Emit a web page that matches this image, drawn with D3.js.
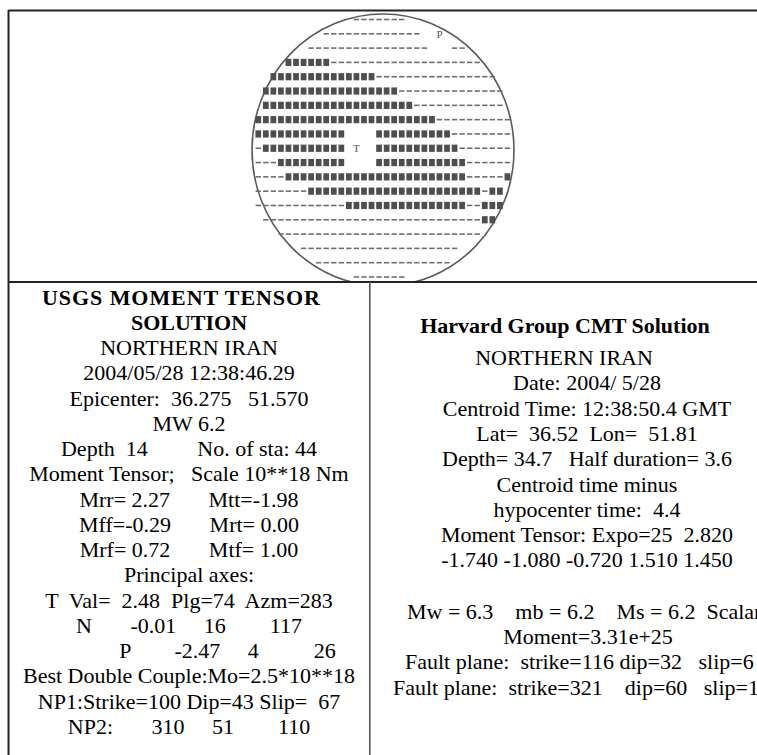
<!DOCTYPE html>
<html>
<head>
<meta charset="utf-8">
<script src="https://cdn.jsdelivr.net/npm/d3@7"></script>
<style>
    html, body { margin: 0; padding: 0; background: #fff; overflow: hidden; }
    svg text { font-family: "Liberation Serif", "Times New Roman", serif; fill: #000; }
</style>
</head>
<body>
<div id="chart"></div>
<script>
// ASCII focal mechanism, one string per printed line (# = compression, - = dilatation)
let ballRows = [
    "             -------",
    "         -------------  P",
    "       ----------------   --",
    "    ######--------------------",
    "  ##############----------------",
    " ##################--------------",
    " ####################------------",
    "########################----------",
    "############    ##########--------",
    "-########### T  ###########-------",
    "---#########    ############------",
    "----########################-----#",
    "-------#######################-##",
    "------------################--###",
    " -----------------------------##",
    "   ---------------------------",
    "      ---------------------",
    "        ------------------",
    "             -------"
];

// USGS panel text
let usgsTitle = ["USGS MOMENT TENSOR", "SOLUTION"];
let usgsLines = [
    "NORTHERN IRAN",
    "2004/05/28 12:38:46.29",
    "Epicenter:  36.275   51.570",
    "MW 6.2",
    "Depth  14         No. of sta: 44",
    "Moment Tensor;   Scale 10**18 Nm",
    "Mrr= 2.27       Mtt=-1.98",
    "Mff=-0.29       Mrt= 0.00",
    "Mrf= 0.72       Mtf= 1.00",
    "Principal axes:",
    "T  Val=  2.48  Plg=74  Azm=283",
    "N       -0.01     16        117",
    "              P        -2.47     4          26",
    "Best Double Couple:Mo=2.5*10**18",
    "NP1:Strike=100 Dip=43 Slip=  67",
    "NP2:       310     51        110"
];

// Harvard panel text
let harvardTitle = "Harvard Group CMT Solution";
let harvardLines = [
    "NORTHERN IRAN",
    "Date: 2004/ 5/28",
    "Centroid Time: 12:38:50.4 GMT",
    "Lat=  36.52  Lon=  51.81",
    "Depth= 34.7   Half duration= 3.6",
    "Centroid time minus",
    "hypocenter time:  4.4",
    "Moment Tensor: Expo=25  2.820",
    "-1.740 -1.080 -0.720 1.510 1.450"
];
let harvardMoment = [
    "Mw = 6.3    mb = 6.2    Ms = 6.2  Scalar",
    "Moment=3.31e+25",
    "Fault plane:  strike=116 dip=32   slip=6",
    "Fault plane:  strike=321    dip=60   slip=1"
];


// Beach ball drawn from the ASCII rows
class BeachBall {
    constructor(svg, rows) {
        this.svg = svg;
        this.rows = rows;
        this.initVis();
    }

    initVis() {
        let vis = this;

        vis.cx = 383;
        vis.cy = 150;
        vis.rx = 131;
        vis.ry = 136;
        vis.nCols = 34;

        // character grid
        vis.x = d3.scaleBand()
            .domain(d3.range(vis.nCols))
            .range([254.5, 254.5 + vis.nCols * 7.55]);

        vis.y = d3.scalePoint()
            .domain(d3.range(vis.rows.length))
            .range([19.5, 277]);

        vis.svg.append("clipPath")
            .attr("id", "ball-clip")
            .append("rect")
            .attr("x", 0).attr("y", 0)
            .attr("width", 757).attr("height", 282);

        vis.g = vis.svg.append("g");

        vis.g.append("ellipse")
            .attr("clip-path", "url(#ball-clip)")
            .attr("cx", vis.cx)
            .attr("cy", vis.cy)
            .attr("rx", vis.rx)
            .attr("ry", vis.ry)
            .attr("fill", "none")
            .attr("stroke", "#5a5a5a")
            .attr("stroke-width", 1.6);

        vis.wrangleData();
    }

    wrangleData() {
        let vis = this;

        vis.cells = [];
        vis.rows.forEach((line, r) => {
            line.split("").forEach((ch, c) => {
                if (ch !== " ") vis.cells.push({row: r, col: c, ch: ch});
            });
        });

        vis.updateVis();
    }

    updateVis() {
        let vis = this;
        let bw = vis.x.bandwidth();

        vis.g.selectAll(".comp")
            .data(vis.cells.filter(d => d.ch === "#"))
            .enter()
            .append("rect")
            .attr("class", "comp")
            .attr("x", d => vis.x(d.col) + 0.9)
            .attr("y", d => vis.y(d.row) - 3.6)
            .attr("width", bw - 1.8)
            .attr("height", 7.2)
            .attr("fill", "#4e4e4e");

        vis.g.selectAll(".dil")
            .data(vis.cells.filter(d => d.ch === "-"))
            .enter()
            .append("rect")
            .attr("class", "dil")
            .attr("x", d => vis.x(d.col) + 1.1)
            .attr("y", d => vis.y(d.row) - 0.8)
            .attr("width", bw - 2.2)
            .attr("height", 1.6)
            .attr("fill", "#6e6e6e");

        vis.g.selectAll(".axis-label")
            .data(vis.cells.filter(d => d.ch === "T" || d.ch === "P"))
            .enter()
            .append("text")
            .attr("class", "axis-label")
            .attr("x", d => vis.x(d.col) + bw / 2)
            .attr("y", d => vis.y(d.row) + 4)
            .attr("text-anchor", "middle")
            .style("font-size", "11px")
            .style("fill", "#555")
            .text(d => d.ch);
    }
}


let svg = d3.select("#chart").append("svg")
    .attr("width", 757)
    .attr("height", 755);

// frame lines
let frame = svg.append("g").attr("fill", "none");
frame.append("path").attr("d", "M8.5,10.5 H757").attr("stroke", "#222").attr("stroke-width", 2);
frame.append("path").attr("d", "M8.5,10 V755").attr("stroke", "#222").attr("stroke-width", 2);

new BeachBall(svg, ballRows);

frame.raise();
svg.append("path").attr("d", "M8.5,282 H757").attr("stroke", "#222").attr("stroke-width", 2);
svg.append("path").attr("d", "M369.8,282 V755").attr("stroke", "#555").attr("stroke-width", 1.6);

// helper for a block of text lines
function drawLines(lines, opts) {
    svg.append("g")
        .selectAll("text")
        .data(lines)
        .enter()
        .append("text")
        .attr("xml:space", "preserve")
        .attr("x", (d, i) => typeof opts.x === "function" ? opts.x(i) : opts.x)
        .attr("y", (d, i) => opts.y0 + i * opts.step)
        .attr("text-anchor", (d, i) => typeof opts.anchor === "function" ? opts.anchor(i) : opts.anchor)
        .style("font-size", opts.size + "px")
        .style("font-weight", opts.weight || "normal")
        .text(d => d);
}

// USGS panel
svg.append("text")
    .attr("x", 181)
    .attr("y", 304.5)
    .attr("text-anchor", "middle")
    .attr("textLength", 278)
    .attr("lengthAdjust", "spacing")
    .style("font-size", "22px")
    .style("font-weight", "bold")
    .text(usgsTitle[0]);

drawLines([usgsTitle[1]], {x: 189, y0: 329.5, step: 25.25, anchor: "middle", size: 22, weight: "bold"});
drawLines(usgsLines, {x: 189, y0: 355, step: 25.25, anchor: "middle", size: 22});

// Harvard panel
drawLines([harvardTitle], {x: 565, y0: 332.5, step: 0, anchor: "middle", size: 22, weight: "bold"});
drawLines(harvardLines, {x: i => i === 0 ? 564 : 587, y0: 365, step: 25.3, anchor: "middle", size: 22});

let momentX = [407, 588, 405, 393];
drawLines(harvardMoment, {
    x: i => momentX[i],
    y0: 618.5,
    step: 25.4,
    anchor: i => i === 1 ? "middle" : "start",
    size: 22
});
</script>
</body>
</html>
